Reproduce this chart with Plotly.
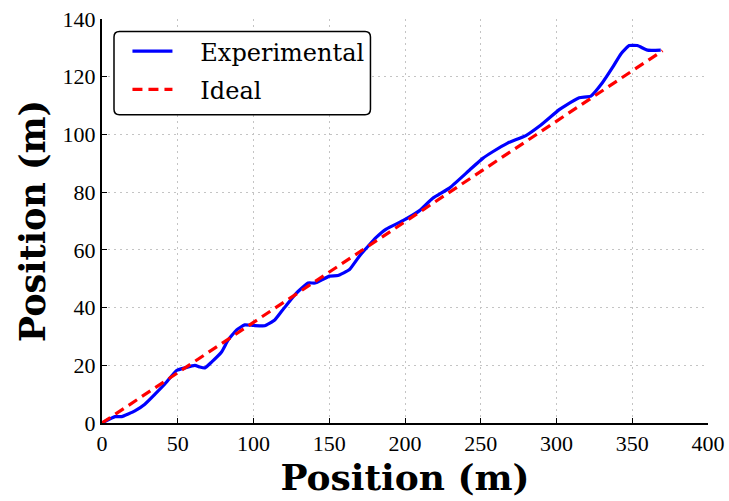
import plotly.graph_objects as go

# Measured track (experimental) and the ideal straight path
exp_x = [0, 8.6, 13, 21.7, 28.3, 35, 41.5, 49.2, 54.7, 61.3, 64.6, 67.9, 72.3, 78.9,
         83.2, 88.7, 94.2, 100, 107.4, 114, 118.4, 122, 128.3, 136, 140.6, 150.2,
         155.7, 163.4, 170, 181, 187.6, 198.6, 209.6, 218.3, 229.3, 242.5, 251.3,
         257.9, 267.7, 279.8, 288.6, 301.8, 306.2, 315, 322.7, 330.4, 337, 342.5,
         348, 353.4, 360, 368.8]
exp_y = [0, 2.2, 2.2, 4.2, 6.5, 10, 13.5, 18.2, 19.1, 20, 19.4, 19.1, 21.1, 24.6,
         28.7, 32.2, 34, 33.8, 33.7, 35.7, 38.6, 41, 45, 48.5, 48.5, 50.9, 51.1,
         53.2, 57.9, 64.3, 67.2, 70.1, 73.6, 77.9, 81.4, 87.6, 91.7, 94, 97, 99.6,
         102.8, 108.6, 110.1, 112.7, 113.3, 118, 123.2, 127.9, 130.8, 130.8, 129.2,
         129.2]
ideal_x = [0, 370]
ideal_y = [0, 129]

x_ticks = [0, 50, 100, 150, 200, 250, 300, 350, 400]
y_ticks = [0, 20, 40, 60, 80, 100, 120, 140]

SERIF = "DejaVu Serif"
TICK_FONT = "Liberation Serif, serif"
PAD = "\u00a0\u00a0\u00a0"

fig = go.Figure()
fig.add_trace(go.Scatter(x=exp_x, y=exp_y, mode="lines", name=PAD + "Experimental",
                         legendgroup="a",
                         line=dict(color="#0000ff", width=3.2, shape="spline", smoothing=0.4)))
fig.add_trace(go.Scatter(x=ideal_x, y=ideal_y, mode="lines", name=PAD + "Ideal",
                         legendgroup="b",
                         line=dict(color="#ff0000", width=3.2, dash="10px,6px")))

axis_common = dict(
    showline=True, linecolor="black", linewidth=2,
    ticks="inside", ticklen=5, tickcolor="black", tickwidth=1,
    showgrid=True, gridcolor="#c4c4c4", griddash="2px,4px", gridwidth=1,
    zeroline=False, mirror=False, automargin=False,
    tickfont=dict(family=TICK_FONT, size=22, color="black"),
)

fig.update_xaxes(range=[0, 400], tickvals=x_ticks, **axis_common,
                 title=dict(text="<b>Position (m)</b>", standoff=6,
                            font=dict(family=SERIF, size=36, color="black")))
fig.update_yaxes(range=[0, 140], tickvals=y_ticks, **axis_common,
                 title=dict(text="<b>Position (m)</b>", standoff=6,
                            font=dict(family=SERIF, size=35, color="black")))

# Rounded legend frame (paper coordinates)
x0, x1, y0, y1, r = 0.0198, 0.443, 0.763, 0.969, 0.009
ry = r * 607 / 403
path = (f"M {x0+r},{y1} L {x1-r},{y1} Q {x1},{y1} {x1},{y1-ry} "
        f"L {x1},{y0+ry} Q {x1},{y0} {x1-r},{y0} L {x0+r},{y0} "
        f"Q {x0},{y0} {x0},{y0+ry} L {x0},{y1-ry} Q {x0},{y1} {x0+r},{y1} Z")
fig.add_shape(type="path", path=path, xref="paper", yref="paper",
              line=dict(color="black", width=1.5), fillcolor="white", layer="above")

fig.update_layout(
    width=729, height=501,
    margin=dict(l=102, r=21, t=19, b=78),
    plot_bgcolor="white", paper_bgcolor="white",
    legend=dict(x=0.042, y=0.975, xanchor="left", yanchor="top",
                bgcolor="rgba(0,0,0,0)", borderwidth=0, itemwidth=40,
                tracegroupgap=4,
                font=dict(family=SERIF, size=24, color="black")),
)

fig.write_html("out.html")
